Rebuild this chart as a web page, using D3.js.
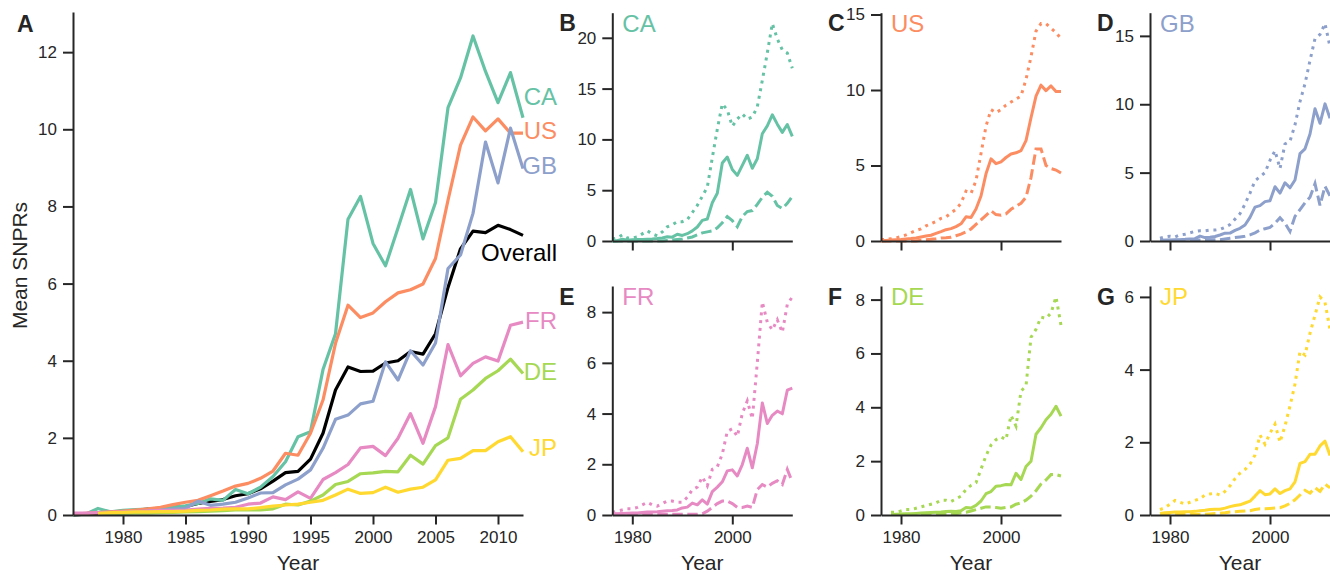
<!DOCTYPE html>
<html><head><meta charset="utf-8">
<script src="https://cdn.jsdelivr.net/npm/d3@7"></script>
<style>body{margin:0;background:#fff} svg{display:block;font-family:"Liberation Sans",Arial,sans-serif}</style>
</head><body><svg id="c" width="1330" height="574"></svg>
<script>
// ---------------- DATA ----------------
const years = [1976,1977,1978,1979,1980,1981,1982,1983,1984,1985,1986,1987,1988,1989,1990,1991,1992,1993,1994,1995,1996,1997,1998,1999,2000,2001,2002,2003,2004,2005,2006,2007,2008,2009,2010,2011,2012];
const countries = ["CA","US","GB","FR","DE","JP"];
const colors = ["#66c2a5","#fc8d62","#8da0cb","#e78ac3","#a6d854","#ffd92f"];

const overall = [0,0.02,0.05,0.07,0.1,0.12,0.15,0.17,0.2,0.22,0.3,0.35,0.4,0.5,0.55,0.68,0.88,1.1,1.13,1.45,2.12,3.24,3.84,3.72,3.73,3.94,4.0,4.24,4.17,4.7,5.9,6.9,7.36,7.32,7.51,7.4,7.25];

const caMean = [0,0.02,0.17,0.08,0.12,0.14,0.15,0.18,0.2,0.24,0.3,0.42,0.38,0.66,0.55,0.72,1.0,1.38,2.03,2.16,3.77,4.7,7.67,8.26,7.04,6.46,7.44,8.44,7.16,8.1,10.56,11.33,12.42,11.5,10.69,11.47,10.3];
const usMean = [0.02,0.04,0.06,0.08,0.1,0.13,0.16,0.2,0.27,0.33,0.38,0.5,0.62,0.75,0.82,0.95,1.14,1.6,1.55,2.12,2.98,4.45,5.44,5.12,5.24,5.53,5.76,5.84,5.99,6.65,8.16,9.59,10.32,9.96,10.27,9.9,9.9];
const gbMean = [null,null,0.03,0.05,0.07,0.09,0.1,0.12,0.15,0.17,0.36,0.25,0.28,0.33,0.44,0.57,0.58,0.78,0.93,1.17,1.73,2.48,2.59,2.88,2.95,3.97,3.5,4.26,3.89,4.46,6.39,6.74,7.82,9.67,8.61,10.03,8.98];
const frMean = [0.05,0.05,0.06,0.07,0.08,0.08,0.1,0.12,0.12,0.13,0.15,0.17,0.18,0.2,0.28,0.31,0.47,0.4,0.6,0.43,0.92,1.1,1.31,1.74,1.78,1.54,1.99,2.63,1.86,2.81,4.42,3.61,3.93,4.1,3.99,4.92,5.0];
const deMean = [null,null,0.02,0.03,0.04,0.05,0.05,0.06,0.07,0.08,0.09,0.1,0.11,0.13,0.14,0.13,0.16,0.28,0.26,0.36,0.52,0.79,0.87,1.07,1.09,1.13,1.12,1.55,1.32,1.8,2.0,3.0,3.24,3.54,3.74,4.04,3.67];
const jpMean = [null,null,0.04,0.06,0.07,0.08,0.08,0.09,0.09,0.1,0.12,0.13,0.15,0.16,0.16,0.19,0.23,0.26,0.28,0.33,0.38,0.52,0.67,0.56,0.58,0.72,0.59,0.67,0.72,0.91,1.42,1.47,1.67,1.67,1.9,2.03,1.64];

const caHigh = [0.2,0.3,0.6,0.3,0.3,0.4,0.7,1.0,0.7,0.5,0.9,1.4,1.6,1.9,1.9,2.1,2.8,3.5,4.4,5.3,8.2,11.0,13.5,12.9,11.3,12.0,12.5,12.0,12.2,13.2,15.8,18.5,21.4,19.9,18.8,18.5,17.0];
const usHigh = [0.1,0.1,0.15,0.2,0.3,0.4,0.55,0.7,0.8,1.0,1.15,1.3,1.5,1.6,1.85,2.1,2.5,3.3,3.15,4.0,5.8,7.6,8.7,8.5,8.7,9.0,9.2,9.4,9.6,10.7,12.2,13.9,14.4,14.4,14.1,13.8,13.4];
const gbHigh = [null,null,0.2,0.3,0.35,0.3,0.45,0.5,0.6,0.7,0.75,0.75,0.8,0.8,0.85,1.0,1.2,1.6,2.0,2.7,3.5,4.4,4.7,5.0,5.9,6.6,5.3,7.1,7.3,8.5,10.2,11.5,13.2,14.8,15.1,15.9,14.2];
const frHigh = [0.1,0.15,0.2,0.25,0.25,0.3,0.4,0.5,0.4,0.35,0.45,0.55,0.55,0.5,0.5,0.7,1.0,1.1,1.5,1.15,1.8,1.9,2.4,3.3,3.4,3.1,4.0,4.5,3.8,6.0,8.4,7.6,7.3,7.7,7.2,8.3,8.6];
const deHigh = [null,null,0.1,0.1,0.15,0.2,0.2,0.25,0.3,0.35,0.4,0.45,0.55,0.55,0.5,0.6,0.7,0.95,1.1,1.2,1.7,2.2,2.6,2.8,2.9,2.8,3.7,3.3,4.6,4.8,6.6,6.9,7.35,7.3,7.5,8.1,7.05];
const jpHigh = [null,null,0.15,0.2,0.3,0.4,0.35,0.3,0.35,0.4,0.45,0.55,0.58,0.6,0.55,0.65,0.8,1.0,1.15,1.25,1.4,1.65,2.2,1.95,2.25,2.5,2.0,2.45,3.0,3.6,4.5,4.4,5.0,5.5,6.0,5.85,5.1];

const caLow = [0,0,0,0,0,0,0,0,0,0,0,0.05,0.1,0.15,0.2,0.3,0.4,0.6,0.8,0.9,1.0,1.3,1.8,2.4,2.0,1.4,2.4,2.9,3.0,3.6,4.3,4.8,4.4,3.5,3.2,3.7,4.4];
const usLow = [0,0,0,0,0,0,0,0,0.05,0.08,0.12,0.15,0.2,0.22,0.25,0.35,0.45,0.6,0.8,1.1,1.4,1.7,2.0,1.75,1.7,1.8,2.1,2.3,2.5,2.9,4.2,6.1,6.1,5.0,4.8,4.7,4.5];
const gbLow = [null,null,0.05,0.05,0.05,0.05,0.05,0.05,0.05,0.06,0.07,0.08,0.09,0.1,0.1,0.15,0.2,0.25,0.3,0.35,0.45,0.6,0.8,0.9,1.0,1.3,1.7,1.3,0.7,1.8,2.3,2.8,3.2,4.2,2.6,4.0,3.3];
const frLow = [0.03,0.03,0.03,0.03,0.03,0.03,0.03,0.03,0.03,0.03,0.03,0.03,0.03,0.03,0.03,0.03,0.03,0.03,0.05,0.15,0.3,0.45,0.55,0.55,0.45,0.3,0.3,0.35,0.3,1.0,1.2,1.1,1.25,1.35,1.2,1.8,1.3];
const deLow = [null,null,0.02,0.02,0.02,0.02,0.02,0.02,0.02,0.02,0.02,0.02,0.02,0.03,0.03,0.05,0.08,0.1,0.15,0.2,0.25,0.3,0.3,0.28,0.25,0.28,0.3,0.4,0.45,0.55,0.7,0.9,1.15,1.3,1.5,1.5,1.45];
const jpLow = [null,null,0.02,0.02,0.02,0.02,0.02,0.02,0.02,0.02,0.02,0.02,0.03,0.04,0.05,0.06,0.08,0.09,0.1,0.11,0.12,0.15,0.17,0.17,0.18,0.19,0.2,0.25,0.32,0.42,0.55,0.68,0.6,0.75,0.65,0.85,0.75];

const meanSeries = [caMean, usMean, gbMean, frMean, deMean, jpMean];
const highSeries = [caHigh, usHigh, gbHigh, frHigh, deHigh, jpHigh];
const lowSeries  = [caLow, usLow, gbLow, frLow, deLow, jpLow];

const panelLetters = ["B","C","D","E","F","G"];
const yTicksA = [0,2,4,6,8,10,12];
const xTicksA = [1980,1985,1990,1995,2000,2005,2010];
const xTicksSmall = [1980,2000];
const yTicksSmall = [[0,5,10,15,20],[0,5,10,15],[0,5,10,15],[0,2,4,6,8],[0,2,4,6,8],[0,2,4,6]];
const labelValuesA = [10.86, 9.97, 9.06, 5.05, 3.71, 1.74];
const overallLabelValue = 6.81;

// ---------------- DRAW ----------------
const svg = d3.select("#c");
const ink = "#262626";
const fmt = d3.format("d");
function styleAxis(g){
  g.attr("font-family", null).attr("font-size", null);
  g.select(".domain").attr("stroke", ink).attr("stroke-width", 2);
  g.selectAll(".tick line").attr("stroke", ink).attr("stroke-width", 2);
  g.selectAll(".tick text").attr("fill", ink).style("font-size", "17px");
}
const pts = arr => arr.map((v,i)=>({x:years[i], y:v}));

// Panel A
{
  const L=73, R=523, T=12, B=515;
  const all = [overall, ...meanSeries].flat().filter(v=>v!=null);
  const x = d3.scaleLinear().domain([d3.min(years), d3.max(years)]).range([L,R]);
  const y = d3.scaleLinear().domain([0, d3.max(all)*1.05]).range([B,T]);
  const line = d3.line().defined(d=>d.y!=null).x(d=>x(d.x)).y(d=>y(d.y));
  const g = svg.append("g");
  g.append("path").attr("d", line(pts(overall))).attr("fill","none").attr("stroke","#000").attr("stroke-width",3.2).attr("stroke-linejoin","round");
  meanSeries.forEach((s,i)=>{
    g.append("path").attr("d", line(pts(s))).attr("fill","none").attr("stroke",colors[i]).attr("stroke-width",3.2).attr("stroke-linejoin","round");
  });
  g.append("g").attr("transform",`translate(0,${B})`).call(d3.axisBottom(x).tickValues(xTicksA).tickFormat(fmt).tickSize(9.5).tickPadding(6).tickSizeOuter(0)).call(styleAxis);
  g.append("g").attr("transform",`translate(${L},0)`).call(d3.axisLeft(y).tickValues(yTicksA).tickFormat(fmt).tickSize(10).tickPadding(6).tickSizeOuter(0)).call(styleAxis);
  const lx = x(d3.max(years)) + 34;
  countries.forEach((c,i)=>{
    g.append("text").attr("x",lx).attr("y",y(labelValuesA[i])).attr("dy","0.35em").attr("text-anchor","end")
      .attr("fill",colors[i]).style("font-size","24px").text(c);
  });
  g.append("text").attr("x",lx).attr("y",y(overallLabelValue)).attr("dy","0.35em").attr("text-anchor","end")
      .attr("fill","#000").style("font-size","24px").text("Overall");
  g.append("text").attr("x",(L+R)/2).attr("y",570).attr("text-anchor","middle").attr("fill",ink).style("font-size","21px").text("Year");
  g.append("text").attr("transform",`translate(27,${(T+B)/2+2}) rotate(-90)`).attr("text-anchor","middle").attr("fill",ink).style("font-size","21px").text("Mean SNPRs");
  g.append("text").attr("x",L-56).attr("y",32).attr("fill",ink).style("font-size","23px").style("font-weight","bold").text("A");
}

// Small panels
const colLeft = [612.3, 881, 1150];
const rowTop = [12.7, 286], rowBottom = [241, 515];
const W = 180;
countries.forEach((c,i)=>{
  const col = i%3, row = Math.floor(i/3);
  const L = colLeft[col], R = L+W, T = rowTop[row], B = rowBottom[row];
  const all = [meanSeries[i], highSeries[i], lowSeries[i]].flat().filter(v=>v!=null);
  const x = d3.scaleLinear().domain([d3.min(years), d3.max(years)]).range([L,R]);
  const y = d3.scaleLinear().domain([0, d3.max(all)*1.05]).range([B,T]);
  const line = d3.line().defined(d=>d.y!=null).x(d=>x(d.x)).y(d=>y(d.y));
  const g = svg.append("g");
  g.append("path").attr("d", line(pts(highSeries[i]))).attr("fill","none").attr("stroke",colors[i]).attr("stroke-width",3).attr("stroke-dasharray","3,4.8");
  g.append("path").attr("d", line(pts(lowSeries[i]))).attr("fill","none").attr("stroke",colors[i]).attr("stroke-width",3).attr("stroke-dasharray","10.5,4.5");
  g.append("path").attr("d", line(pts(meanSeries[i]))).attr("fill","none").attr("stroke",colors[i]).attr("stroke-width",3).attr("stroke-linejoin","round");
  const xa = d3.axisBottom(x).tickValues(xTicksSmall).tickFormat(row===1 ? fmt : ()=>"").tickSize(9.5).tickPadding(6).tickSizeOuter(0);
  g.append("g").attr("transform",`translate(0,${B})`).call(xa).call(styleAxis);
  g.append("g").attr("transform",`translate(${L},0)`).call(d3.axisLeft(y).tickValues(yTicksSmall[i]).tickFormat(fmt).tickSize(10).tickPadding(6).tickSizeOuter(0)).call(styleAxis);
  g.append("text").attr("x",L+10).attr("y",T+19).attr("fill",colors[i]).style("font-size","24px").text(c);
  g.append("text").attr("x",L-53).attr("y",T+18.5).attr("fill",ink).style("font-size","23px").style("font-weight","bold").text(panelLetters[i]);
  if(row===1) g.append("text").attr("x",(L+R)/2).attr("y",570).attr("text-anchor","middle").attr("fill",ink).style("font-size","21px").text("Year");
});
</script></body></html>
